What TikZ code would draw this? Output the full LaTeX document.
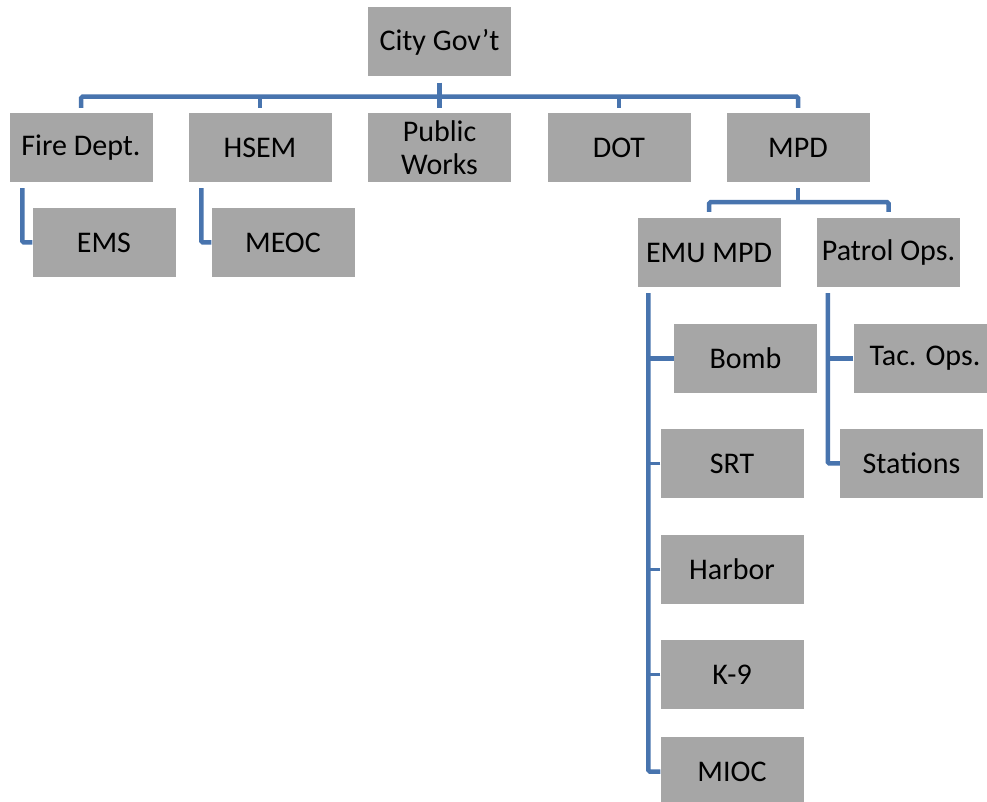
\documentclass[tikz,border=0pt]{standalone}
\usepackage{fontspec}
\setmainfont{Carlito}
\definecolor{boxgray}{HTML}{A6A6A6}
\definecolor{connblue}{HTML}{4874AE}
\begin{document}
\begin{tikzpicture}[x=1pt,y=1pt,
  box/.style={fill=boxgray, minimum width=143pt, minimum height=69pt, inner sep=0pt,
    align=center, font=\fontsize{30}{33}\selectfont},
  conn/.style={draw=connblue, line width=4.5pt, rounded corners=1.5pt},
  tick/.style={draw=connblue, line width=3.5pt}]
\clip (0,0) rectangle (987,801);
\fill[white] (0,0) rectangle (987,801);
% nodes
\node[box] (city) at (439.5,759) {City Gov’t};
\node[box] (fire) at (81,653.5) {Fire Dept.};
\node[box] (hsem) at (260,653.5) {HSEM};
\node[box] (pw) at (439.5,653.5) {Public\\Works};
\node[box] (dot) at (619,653.5) {DOT};
\node[box] (mpd) at (798,653.5) {MPD};
\node[box] (ems) at (104,558.5) {EMS};
\node[box] (meoc) at (283,558.5) {MEOC};
\node[box] (emu) at (709,548.5) {EMU MPD};
\node[box] (patrol) at (888.5,548.5) {Patrol Ops.};
\node[box] (bomb) at (745.5,442.5) {Bomb};
\node[box] (tac) at (925,442.5) {Tac. Ops.};
\node[box] (srt) at (732,337.5) {SRT};
\node[box] (stations) at (911.5,337.5) {Stations};
\node[box] (harbor) at (732,231.5) {Harbor};
\node[box] (k9) at (732,126.5) {K-9};
\node[box] (mioc) at (732,29.5) {MIOC};
% top level connectors
\draw[conn] ([yshift=5pt]fire.north) |- ([yshift=-20pt]city.south) -| ([yshift=5pt]mpd.north);
\draw[conn] ([yshift=-6pt]city.south) -- ([yshift=5pt]pw.north);
\draw[conn] ([yshift=5pt]hsem.north) -- ++(0,13);
\draw[conn] ([yshift=5pt]dot.north) -- ++(0,13);
% fire / hsem
\draw[conn] ([xshift=13pt,yshift=-6pt]fire.south west) |- (ems.west);
\draw[conn] ([xshift=13pt,yshift=-6pt]hsem.south west) |- (meoc.west);
% mpd
\draw[conn] ([yshift=6pt]emu.north) |- ([yshift=-20pt]mpd.south) -| ([yshift=6pt]patrol.north);
\draw[conn] ([yshift=-6pt]mpd.south) -- ([yshift=-20pt]mpd.south);
% emu column
\coordinate (emutrunk) at ([xshift=11pt,yshift=-6pt]emu.south west);
\draw[conn] (emutrunk) |- (mioc.west);
\draw[conn] (bomb.west) -- (bomb.west -| emutrunk);
\draw[tick] (srt.west) -- (srt.west -| emutrunk);
\draw[tick] (harbor.west) -- (harbor.west -| emutrunk);
\draw[tick] (k9.west) -- (k9.west -| emutrunk);
% patrol column
\coordinate (patroltrunk) at ([xshift=11pt,yshift=-6pt]patrol.south west);
\draw[conn] (patroltrunk) |- (stations.west);
\draw[conn] (tac.west) -- (tac.west -| patroltrunk);
\end{tikzpicture}
\end{document}
